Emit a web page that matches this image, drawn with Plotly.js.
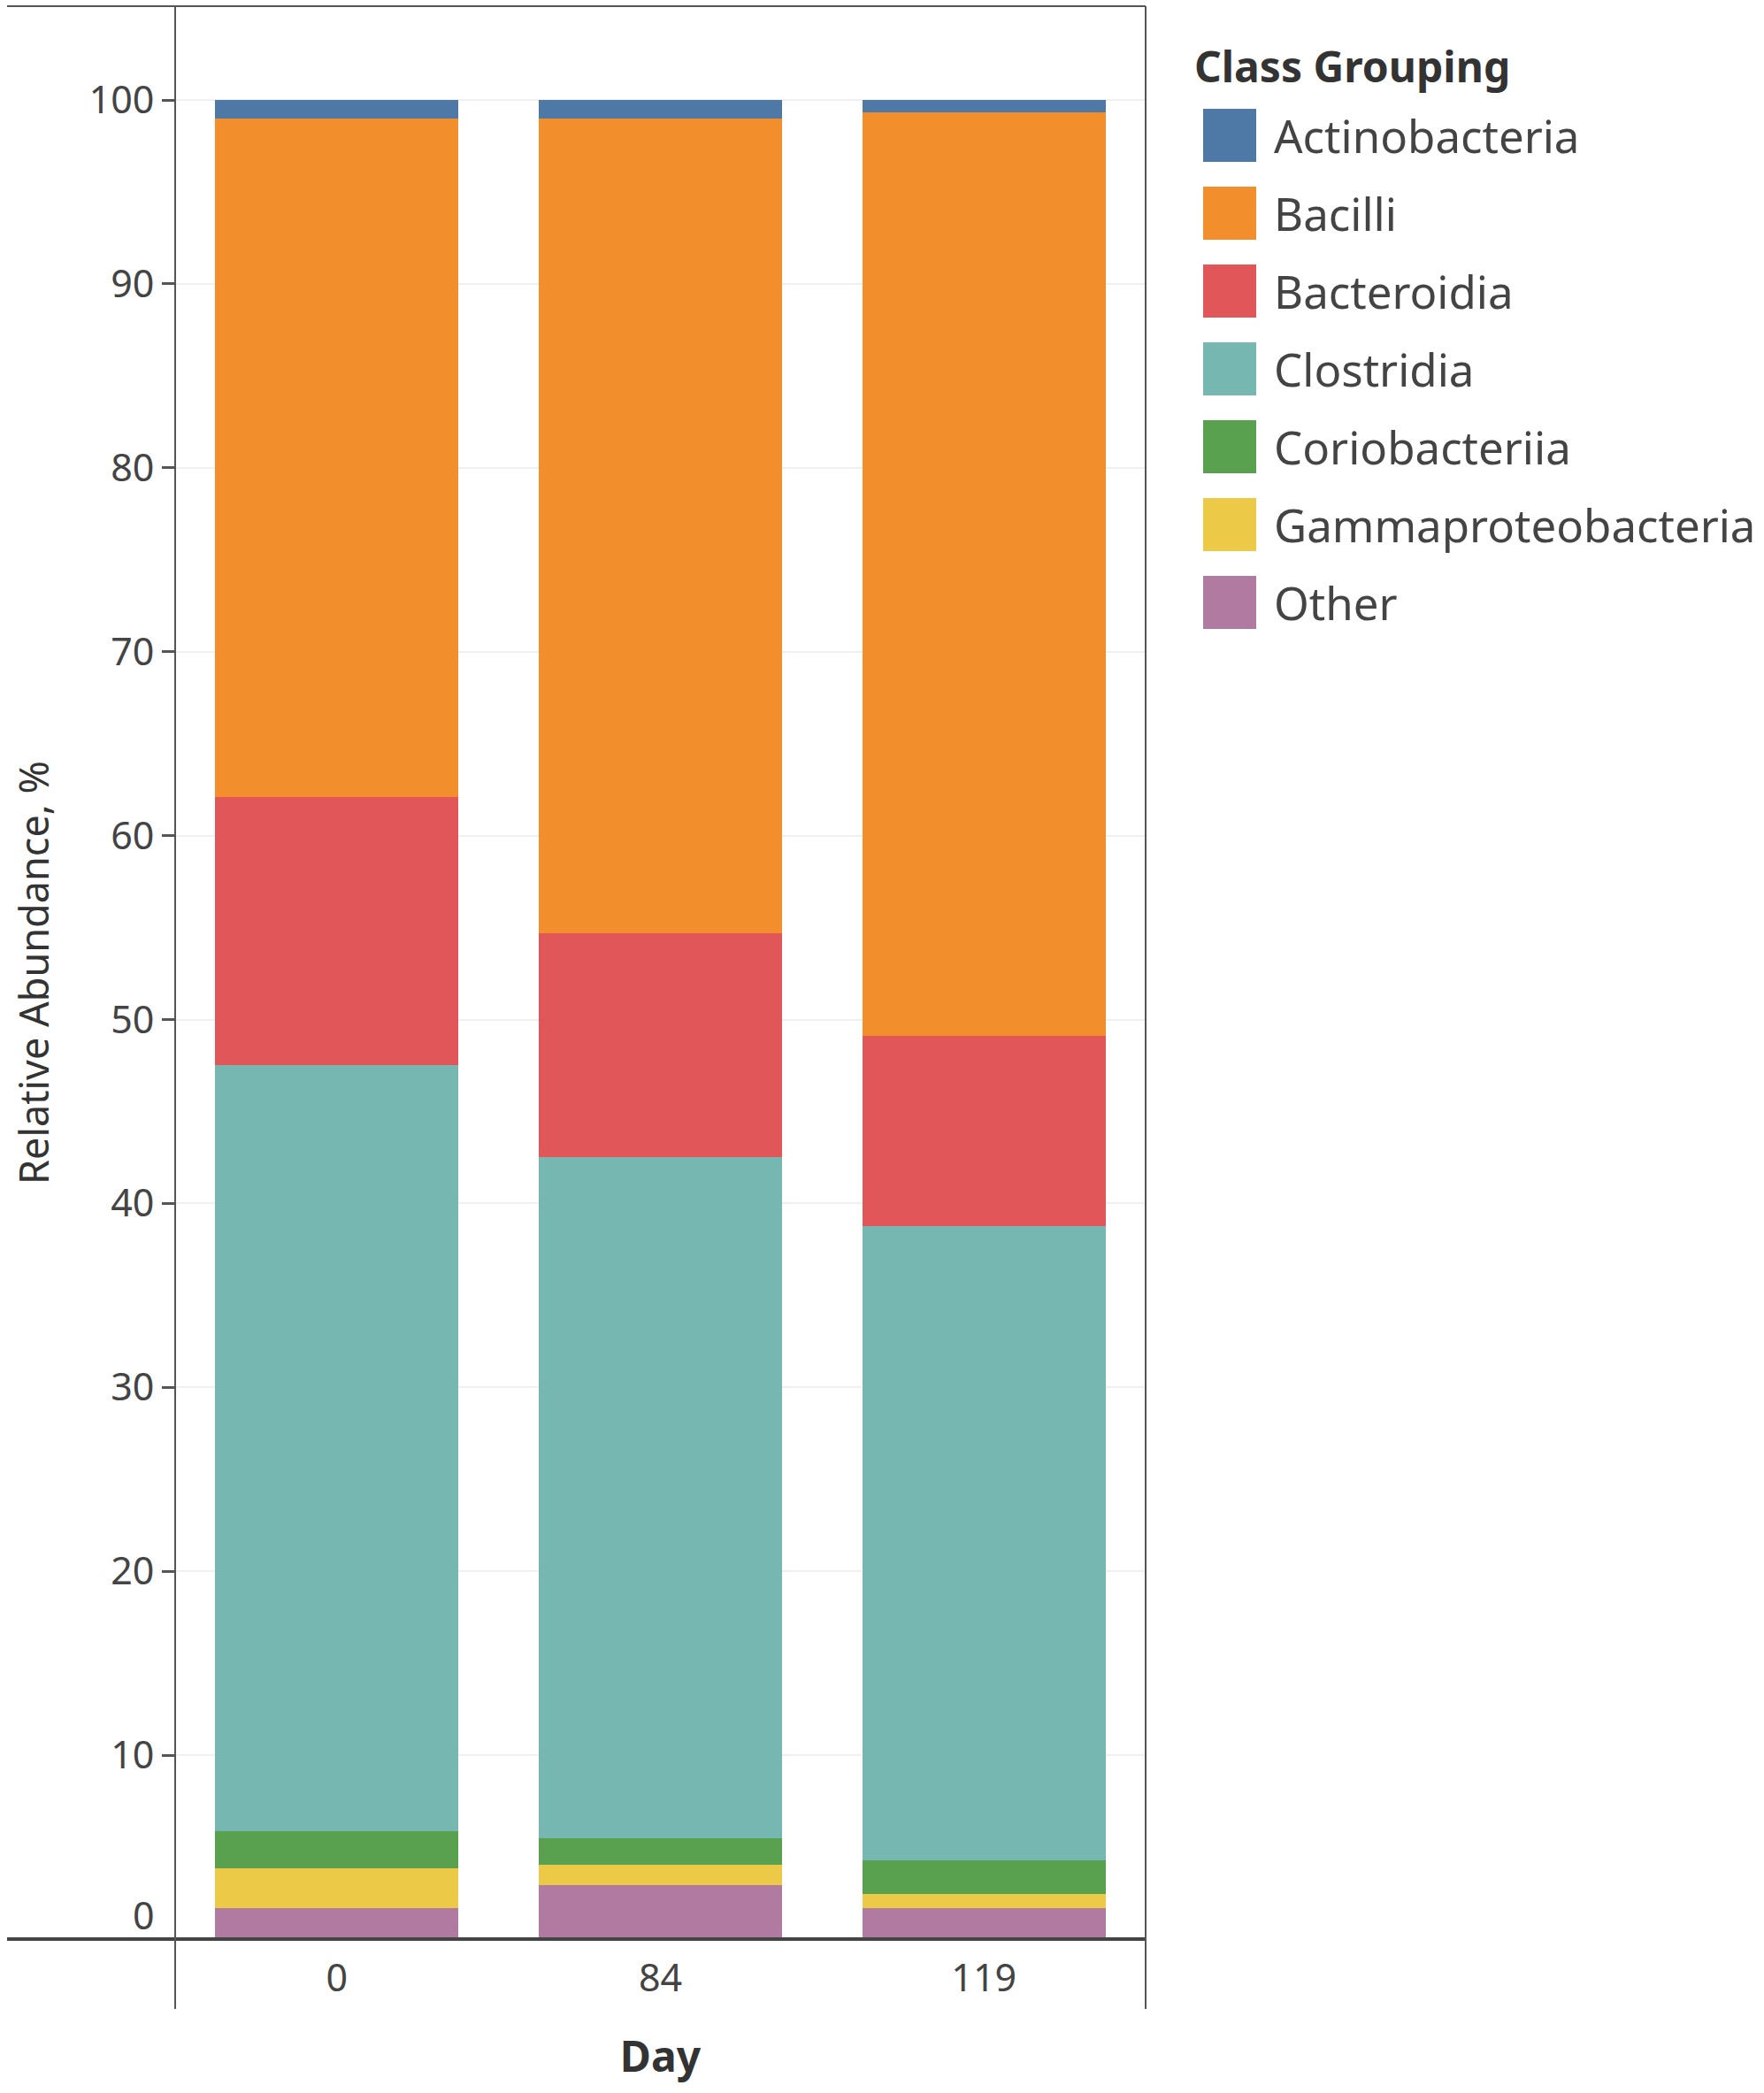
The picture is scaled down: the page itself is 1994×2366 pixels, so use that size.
<!DOCTYPE html>
<html>
<head>
<meta charset="utf-8">
<script src="https://cdn.plot.ly/plotly-3.0.1.min.js"></script>
<style>
  html, body { margin: 0; padding: 0; background: #fff; }
  #chart { width: 1994px; height: 2366px; }
</style>
</head>
<body>
<div id="chart"></div>
<script>
// categories and series (relative abundance, %)
var days = ['0', '84', '119'];
var classes = ['Actinobacteria', 'Bacilli', 'Bacteroidia', 'Clostridia', 'Coriobacteriia', 'Gammaproteobacteria', 'Other'];
var classColors = ['#4e79a7', '#f28e2b', '#e15759', '#76b7b2', '#59a14f', '#edc948', '#b07aa1'];

var actinobacteria = [1.0, 1.0, 0.65];
var bacilli = [36.9, 44.3, 50.25];
var bacteroidia = [14.6, 12.2, 10.35];
var clostridia = [41.65, 37.0, 34.48];
var coriobacteriia = [1.98, 1.45, 1.82];
var gammaproteobacteria = [2.17, 1.1, 0.75];
var other = [1.7, 2.95, 1.7];

var yTicks = [0, 10, 20, 30, 40, 50, 60, 70, 80, 90, 100];

var seriesValues = [actinobacteria, bacilli, bacteroidia, clostridia, coriobacteriia, gammaproteobacteria, other];

var FONT = '"Noto Sans", "Open Sans", sans-serif';
var TEXT = '#444';

// plot box in pixels
var W = 1994, H = 2366;
var L = 198, R = 1295, T = 7, B = 2192;
function px(x) { return (x - L) / (R - L); }
function py(y) { return (B - y) / (B - T); }

// stack from the bottom: Other first, Actinobacteria last
var traces = [];
for (var i = classes.length - 1; i >= 0; i--) {
    traces.push({
        type: 'bar',
        name: classes[i],
        x: days,
        y: seriesValues[i],
        marker: { color: classColors[i], line: { width: 0 } },
        hoverinfo: 'name+y'
    });
}

var shapes = [
    // frame lines, tableau style
    { type: 'line', xref: 'paper', yref: 'paper', x0: px(8), x1: px(R), y0: py(T), y1: py(T), line: { color: '#555', width: 2 } },
    { type: 'line', xref: 'paper', yref: 'paper', x0: px(8), x1: px(R), y0: 0, y1: 0, line: { color: '#444', width: 4 } },
    { type: 'line', xref: 'paper', yref: 'paper', x0: 0, x1: 0, y0: py(T), y1: py(2271), line: { color: '#555', width: 2 } },
    { type: 'line', xref: 'paper', yref: 'paper', x0: 1, x1: 1, y0: py(T), y1: py(2271), line: { color: '#555', width: 2 } }
];

var annotations = [
    { xref: 'paper', yref: 'y', x: px(177), y: 0, yshift: 28, xanchor: 'right', yanchor: 'middle',
      text: '0', showarrow: false, font: { family: FONT, size: 43, color: TEXT } },
    { xref: 'paper', yref: 'paper', x: px(1348), y: py(75), xanchor: 'left', yanchor: 'middle',
      text: '<b>Class Grouping</b>', showarrow: false, font: { family: FONT, size: 48, color: '#333' } }
];

// hand-made legend with big swatches
classes.forEach(function(name, i) {
    var cy = 153 + 88 * i;
    shapes.push({
        type: 'rect', xref: 'paper', yref: 'paper',
        x0: px(1360), x1: px(1420), y0: py(cy - 30), y1: py(cy + 30),
        fillcolor: classColors[i], line: { width: 0 }
    });
    annotations.push({
        xref: 'paper', yref: 'paper', x: px(1438), y: py(cy), xanchor: 'left', yanchor: 'middle',
        text: name, showarrow: false, font: { family: FONT, size: 51, color: TEXT }
    });
});

var layout = {
    width: W,
    height: H,
    margin: { l: L, r: W - R, t: T, b: H - B, pad: 0 },
    paper_bgcolor: '#fff',
    plot_bgcolor: '#fff',
    barmode: 'stack',
    bargap: 0.248,
    showlegend: false,
    font: { family: FONT, color: TEXT },
    xaxis: {
        type: 'category',
        range: [-0.5, 2.5],
        showgrid: false,
        zeroline: false,
        showline: false,
        ticks: '',
        ticklabelstandoff: 15,
        tickfont: { family: FONT, size: 43, color: TEXT },
        title: { text: '<b>Day</b>', font: { family: FONT, size: 48, color: '#333' }, standoff: 45 },
        automargin: false
    },
    yaxis: {
        range: [0, 105.1],
        tickvals: yTicks,
        ticktext: yTicks.map(function(v) { return v === 0 ? '' : String(v); }),
        ticks: 'outside',
        ticklen: 14,
        tickwidth: 3,
        tickcolor: '#555',
        showgrid: true,
        gridcolor: '#f0f0f0',
        gridwidth: 2,
        zeroline: false,
        showline: false,
        tickfont: { family: FONT, size: 43, color: TEXT },
        title: { text: 'Relative Abundance, %', font: { family: FONT, size: 45, color: '#333' }, standoff: 30 },
        automargin: false
    },
    shapes: shapes,
    annotations: annotations
};

Plotly.newPlot('chart', traces, layout, { staticPlot: true });
</script>
</body>
</html>
